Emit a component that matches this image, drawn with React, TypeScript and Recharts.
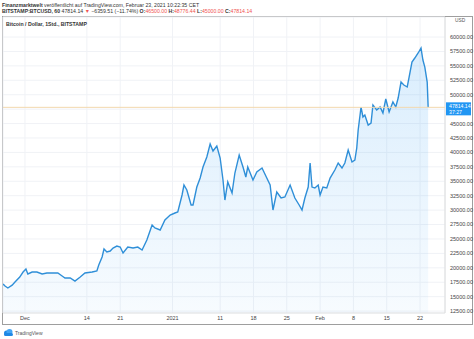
import { AreaChart, Area, XAxis, YAxis, CartesianGrid, ReferenceLine } from 'recharts';

// days since Dec 1 2020 (hourly chart)
const DAYS = [
  -4.6, -4.2, -3.6, -2.7, -2.1, -1.1, -0.4, 0.2, 0.6, 1.5, 2.5, 3.6, 4.6, 5.9, 6.9, 7.8, 8.4, 9.5,
  10.5, 11.6, 12.6, 14.1, 15.1, 15.5, 16.2, 16.6, 17.2, 17.9, 18.5, 19.3, 20.0, 20.6, 21.6, 22.7,
  23.7, 24.6, 25.6, 26.7, 27.3, 28.4, 29.4, 30.5, 31.5, 32.1, 33.0, 33.4, 34.0, 34.9, 35.3, 36.1,
  36.8, 37.4, 38.2, 38.9, 39.5, 40.3, 41.0, 41.6, 42.0, 42.6, 43.5, 44.1, 45.0, 45.8, 46.4, 46.8,
  47.9, 48.7, 49.8, 50.8, 51.5, 52.1, 52.9, 53.8, 54.6, 55.7, 56.7, 57.6, 58.2, 58.8, 59.5, 59.9,
  60.3, 60.9, 61.6, 62.0, 62.6, 63.4, 64.1, 65.1, 65.8, 66.6, 67.2, 67.9, 68.7, 69.3, 69.7, 70.0,
  70.6, 71.0, 71.4, 72.1, 72.7, 73.1, 73.9, 74.6, 75.2, 75.8, 76.5, 77.3, 77.9, 78.4, 79.0, 79.6,
  80.3, 80.7, 81.3, 81.9, 82.6, 83.2, 83.6, 84.0, 84.5, 84.7,
];

const PRICES = [
  17200, 16850, 16500, 17000, 17550, 18400, 19270, 19800, 18930, 19270, 19270, 18930, 19100, 19100,
  19100, 18580, 18230, 18230, 17700, 18400, 19100, 19270, 19450, 20490, 21870, 23260, 22740, 22910,
  23430, 23780, 23600, 22570, 23600, 23430, 23600, 23090, 24820, 27420, 26900, 26550, 28290, 29150,
  29500, 29670, 32620, 34350, 33490, 30890, 30890, 34000, 35560, 37470, 39200, 41460, 40240, 41110,
  39030, 35220, 31750, 34870, 32970, 36430, 39550, 37470, 35740, 37470, 35220, 36600, 37300, 35560,
  34350, 30020, 33140, 32100, 32270, 34350, 32100, 30890, 30020, 32100, 34000, 38160, 34000, 33830,
  34350, 32620, 34000, 33830, 35560, 36950, 38160, 37300, 38160, 40420, 38340, 38680, 40760, 43880,
  47870, 46140, 46480, 44750, 45100, 48220, 47350, 47870, 46830, 49260, 47000, 48740, 47870, 49430,
  52200, 51680, 51340, 53070, 55670, 56360, 57230, 58090, 56010, 54800, 52200, 47814.14,
];

const TICK_DAYS = [0, 13, 20, 31, 41, 48, 55, 62, 69, 76, 83];
const TICK_LABELS = ['Dec', '14', '21', '2021', '11', '18', '25', 'Feb', '8', '15', '22'];

const PRICE_TICKS = [
  12500, 15000, 17500, 20000, 22500, 25000, 27500, 30000, 32500, 35000, 37500, 40000, 42500, 45000,
  47500, 50000, 52500, 55000, 57500, 60000,
];

const LAST_PRICE = 47814.14;
const COUNTDOWN = '37:27';
const OHLC = [
  ['O', '46500.00'],
  ['H', '48776.44'],
  ['L', '45000.00'],
  ['C', '47814.14'],
];

const data = DAYS.map((d, i) => ({ day: d, price: PRICES[i] }));

const FONT = '"Liberation Sans", Arial, sans-serif';
const BLUE = '#2196f3';

function PriceTag(props: any) {
  const { x, y, width } = props.viewBox;
  const left = x + width + 1;
  return (
    <g>
      <rect x={left} y={y - 5} width={25} height={13} fill={BLUE} />
      <text x={left + 3} y={y + 1} fontSize={5.2} fill="#fff" fontFamily={FONT}>
        {LAST_PRICE.toFixed(2)}
      </text>
      <text x={left + 3} y={y + 6.5} fontSize={5.2} fill="#fff" fontFamily={FONT}>
        {COUNTDOWN}
      </text>
    </g>
  );
}

// the price tag hides the scale label it sits on
const priceLabel = (v: number) => (Math.abs(v - LAST_PRICE) < 1250 ? '' : v.toFixed(2));

export default function App() {
  return (
    <div
      style={{
        position: 'absolute',
        left: 0,
        top: 0,
        width: 474,
        height: 339,
        background: '#fff',
        fontFamily: FONT,
        color: '#333',
        overflow: 'hidden',
      }}
    >
      {/* header */}
      <div style={{ position: 'absolute', left: 2, top: 2, fontSize: 5.2, lineHeight: '6px', whiteSpace: 'nowrap' }}>
        <b>Finanzmarktwelt</b> veröffentlicht auf TradingView.com, Februar 23, 2021 10:22:35 CET
      </div>
      <div style={{ position: 'absolute', left: 2, top: 7.5, fontSize: 5.2, lineHeight: '6px', whiteSpace: 'nowrap' }}>
        <b>BITSTAMP:BTCUSD, 60</b> 47814.14 <span style={{ color: '#ef5350' }}>▼</span> −6359.51 (−11.74%){' '}
        {OHLC.map(([k, v]) => (
          <span key={k}>
            <b>{k}:</b>
            <span style={{ color: '#ef5350' }}>{v}</span>{' '}
          </span>
        ))}
      </div>

      {/* chart frame */}
      <div
        style={{
          position: 'absolute',
          left: 2,
          top: 16,
          width: 471,
          height: 309,
          boxSizing: 'border-box',
          border: '1px solid #9e9e9e',
        }}
      />

      <div style={{ position: 'absolute', left: 0, top: 0 }}>
        <AreaChart width={474} height={339} data={data} margin={{ top: 17, right: 3, bottom: 15, left: 3 }}>
          <defs>
            <linearGradient id="btcFill" x1="0" y1="0" x2="0" y2="1">
              <stop offset="0%" stopColor={BLUE} stopOpacity={0.28} />
              <stop offset="100%" stopColor={BLUE} stopOpacity={0.06} />
            </linearGradient>
          </defs>
          <CartesianGrid stroke="#f0f2f6" strokeWidth={1} />
          <XAxis
            dataKey="day"
            type="number"
            domain={[-4.62, 88.24]}
            ticks={TICK_DAYS}
            tickFormatter={(v: number) => TICK_LABELS[TICK_DAYS.indexOf(v)]}
            allowDataOverflow
            height={11}
            tickLine={false}
            tickSize={0}
            tickMargin={3}
            axisLine={{ stroke: '#e3e3e3' }}
            tick={{ fontSize: 5.5, fill: '#444', fontFamily: FONT }}
            interval={0}
          />
          <YAxis
            orientation="right"
            type="number"
            domain={[12170, 63470]}
            ticks={PRICE_TICKS}
            tickFormatter={priceLabel}
            allowDataOverflow
            width={26}
            tickLine={false}
            tickSize={0}
            tickMargin={5}
            axisLine={{ stroke: '#dcdcdc' }}
            tick={{ fontSize: 5.5, fill: '#444', fontFamily: FONT, textAnchor: 'start' }}
            interval={0}
          />
          <Area
            type="linear"
            dataKey="price"
            stroke="#2f8fd8"
            strokeWidth={1.4}
            fill="url(#btcFill)"
            isAnimationActive={false}
            dot={false}
            activeDot={false}
          />
          <ReferenceLine y={LAST_PRICE} stroke="#f2d8ae" strokeWidth={1} label={<PriceTag />} />
        </AreaChart>
      </div>

      {/* pane caption and currency */}
      <div style={{ position: 'absolute', left: 6, top: 21, fontSize: 5.2, fontWeight: 'bold', whiteSpace: 'nowrap' }}>
        Bitcoin / Dollar, 1Std., BITSTAMP
      </div>
      <div style={{ position: 'absolute', left: 455, top: 18, fontSize: 4.8, color: '#555', whiteSpace: 'nowrap' }}>
        USD
      </div>

      {/* footer */}
      <svg style={{ position: 'absolute', left: 3, top: 329 }} width={11} height={7}>
        <circle cx={3.5} cy={4} r={2.5} fill="#1e88e5" />
        <circle cx={6.5} cy={3} r={3} fill="#42a5f5" />
        <rect x={1} y={4} width={9} height={3} rx={1.5} fill="#1e88e5" />
      </svg>
      <div style={{ position: 'absolute', left: 15, top: 330, fontSize: 5, color: '#555', whiteSpace: 'nowrap' }}>
        TradingView
      </div>
    </div>
  );
}
